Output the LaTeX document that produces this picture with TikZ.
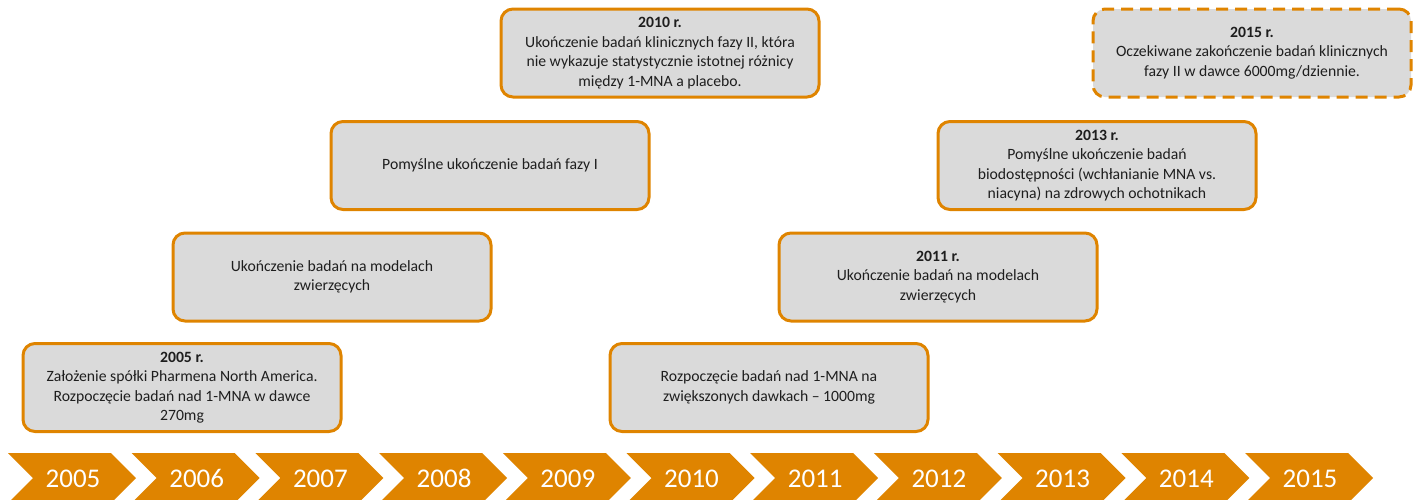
\documentclass[tikz,border=0pt]{standalone}
\usepackage{fontspec,tikz}
\setmainfont{Carlito}
\definecolor{chevorange}{HTML}{DF8400}
\definecolor{boxgray}{HTML}{DADADA}
\definecolor{inkgray}{HTML}{1E1E1E}

\begin{document}
\begin{tikzpicture}[x=1pt,y=-1pt,
  evbox/.style={draw=chevorange,line width=3pt,fill=boxgray,rounded corners=12pt,
    minimum width=318pt,minimum height=88pt,align=center,inner sep=0pt,text=inkgray,
    font=\fontsize{15.7}{19.5}\selectfont},
  planbox/.style={evbox,dash pattern=on 12pt off 7pt},
  chev/.style={fill=chevorange},
  yearlbl/.style={anchor=base,text=white,inner sep=0pt,font=\fontsize{27}{32}\selectfont}]
\path[use as bounding box] (0,0) rectangle (1420.0,499.0);
% timeline
\fill[chev] (8.0,453) -- ++(103,0) -- ++(25,25) -- ++(-25,25) -- ++(-103,0) -- ++(25,-25) -- cycle;
\node[yearlbl] (y2005) at (73.0,487) {2005};
\fill[chev] (131.7,453) -- ++(103,0) -- ++(25,25) -- ++(-25,25) -- ++(-103,0) -- ++(25,-25) -- cycle;
\node[yearlbl] (y2006) at (196.7,487) {2006};
\fill[chev] (255.4,453) -- ++(103,0) -- ++(25,25) -- ++(-25,25) -- ++(-103,0) -- ++(25,-25) -- cycle;
\node[yearlbl] (y2007) at (320.4,487) {2007};
\fill[chev] (379.1,453) -- ++(103,0) -- ++(25,25) -- ++(-25,25) -- ++(-103,0) -- ++(25,-25) -- cycle;
\node[yearlbl] (y2008) at (444.1,487) {2008};
\fill[chev] (502.8,453) -- ++(103,0) -- ++(25,25) -- ++(-25,25) -- ++(-103,0) -- ++(25,-25) -- cycle;
\node[yearlbl] (y2009) at (567.8,487) {2009};
\fill[chev] (626.5,453) -- ++(103,0) -- ++(25,25) -- ++(-25,25) -- ++(-103,0) -- ++(25,-25) -- cycle;
\node[yearlbl] (y2010) at (691.5,487) {2010};
\fill[chev] (750.2,453) -- ++(103,0) -- ++(25,25) -- ++(-25,25) -- ++(-103,0) -- ++(25,-25) -- cycle;
\node[yearlbl] (y2011) at (815.2,487) {2011};
\fill[chev] (873.9,453) -- ++(103,0) -- ++(25,25) -- ++(-25,25) -- ++(-103,0) -- ++(25,-25) -- cycle;
\node[yearlbl] (y2012) at (938.9,487) {2012};
\fill[chev] (997.6,453) -- ++(103,0) -- ++(25,25) -- ++(-25,25) -- ++(-103,0) -- ++(25,-25) -- cycle;
\node[yearlbl] (y2013) at (1062.6,487) {2013};
\fill[chev] (1121.3,453) -- ++(103,0) -- ++(25,25) -- ++(-25,25) -- ++(-103,0) -- ++(25,-25) -- cycle;
\node[yearlbl] (y2014) at (1186.3,487) {2014};
\fill[chev] (1245.0,453) -- ++(103,0) -- ++(25,25) -- ++(-25,25) -- ++(-103,0) -- ++(25,-25) -- cycle;
\node[yearlbl] (y2015) at (1310.0,487) {2015};
% events
\node[evbox] (ev2005) at (182,387.5) {\textbf{2005 r.}\\Założenie spółki Pharmena North America.\\Rozpoczęcie badań nad 1-MNA w dawce\\270mg};
\node[evbox] (evanimal) at (332,277) {Ukończenie badań na modelach\\zwierzęcych};
\node[evbox] (evphase1) at (490,165.5) {Pomyślne ukończenie badań fazy I};
\node[evbox] (ev2010) at (660,53) {\textbf{2010 r.}\\Ukończenie badań klinicznych fazy II, która\\nie wykazuje statystycznie istotnej różnicy\\między 1-MNA a placebo.};
\node[evbox] (evdose) at (769,387.5) {Rozpoczęcie badań nad 1-MNA na\\zwiększonych dawkach – 1000mg};
\node[evbox] (ev2011) at (938,277) {\textbf{2011 r.}\\Ukończenie badań na modelach\\zwierzęcych};
\node[evbox] (ev2013) at (1097,165.5) {\textbf{2013 r.}\\Pomyślne ukończenie badań\\biodostępności (wchłanianie MNA vs.\\niacyna) na zdrowych ochotnikach};
\node[planbox] (ev2015) at (1252,53) {\textbf{2015 r.}\\Oczekiwane zakończenie badań klinicznych\\fazy II w dawce 6000mg/dziennie.};
\end{tikzpicture}
\end{document}
